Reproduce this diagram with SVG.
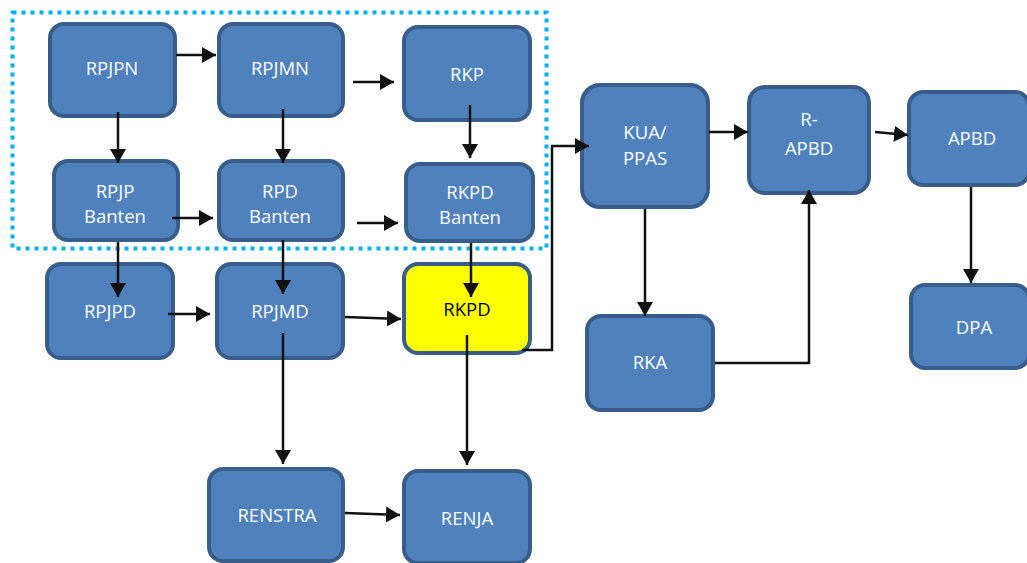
<svg xmlns="http://www.w3.org/2000/svg" width="1027" height="563" viewBox="0 0 1027 563">
<defs>
<marker id="ah" markerUnits="userSpaceOnUse" markerWidth="15" markerHeight="16" refX="14" refY="8" orient="auto">
<path d="M0,0 L14,8 L0,16 z" fill="#111"/>
</marker>
<style>
.n rect{fill:#4F81BD;stroke:#385D8A;stroke-width:4}
.n text{font-family:"Open Sans","Liberation Sans",sans-serif;font-size:18.5px;fill:#fff;text-anchor:middle}
.y rect{fill:#FFFF00}
.y text{fill:#000}
.c path{fill:none;stroke:#111;stroke-width:2.5;marker-end:url(#ah)}
</style>
</defs>
<rect x="12.5" y="12.5" width="534" height="236" fill="none" stroke="#00B0F0" stroke-width="4" stroke-dasharray="4 5"/>
<g class="n" id="rpjpn"><rect x="50" y="24" width="125" height="92" rx="14"/><text x="112" y="75">RPJPN</text></g>
<g class="n" id="rpjmn"><rect x="219" y="24" width="124" height="92" rx="14"/><text x="280" y="75">RPJMN</text></g>
<g class="n" id="rkp"><rect x="404" y="27" width="126" height="93" rx="14"/><text x="467" y="81">RKP</text></g>
<g class="n" id="rpjp"><rect x="54" y="161" width="124" height="79" rx="14"/><text x="115" y="198">RPJP</text><text x="115" y="223">Banten</text></g>
<g class="n" id="rpd"><rect x="219" y="161" width="124" height="79" rx="14"/><text x="280" y="198">RPD</text><text x="280" y="223">Banten</text></g>
<g class="n" id="rkpdb"><rect x="406" y="164" width="127" height="77" rx="14"/><text x="470" y="199">RKPD</text><text x="470" y="224">Banten</text></g>
<g class="n" id="rpjpd"><rect x="47" y="264" width="126" height="94" rx="14"/><text x="110" y="318">RPJPD</text></g>
<g class="n" id="rpjmd"><rect x="217" y="264" width="126" height="94" rx="14"/><text x="280" y="318">RPJMD</text></g>
<g class="n y" id="rkpd"><rect x="404" y="264" width="126" height="89" rx="14"/><text x="467" y="316">RKPD</text></g>
<g class="n" id="renstra"><rect x="209" y="469" width="134" height="92" rx="14"/><text x="277" y="522">RENSTRA</text></g>
<g class="n" id="renja"><rect x="404" y="471" width="126" height="92" rx="14"/><text x="467" y="525">RENJA</text></g>
<g class="n" id="kua"><rect x="582" y="85" width="126" height="122" rx="18"/><text x="645" y="139">KUA/</text><text x="645" y="165">PPAS</text></g>
<g class="n" id="rapbd"><rect x="749" y="87" width="120" height="106" rx="16"/><text x="809" y="126">R-</text><text x="809" y="155">APBD</text></g>
<g class="n" id="apbd"><rect x="909" y="92" width="120" height="93" rx="14"/><text x="972" y="145">APBD</text></g>
<g class="n" id="rka"><rect x="587" y="316" width="126" height="94" rx="14"/><text x="650" y="369">RKA</text></g>
<g class="n" id="dpa"><rect x="911" y="285" width="118" height="83" rx="14"/><text x="974" y="334">DPA</text></g>
<g class="c" id="connectors">
<path d="M176,55 L216,55"/>
<path d="M353,82 L394,82"/>
<path d="M118,112 L118,163"/>
<path d="M283,109 L283,163"/>
<path d="M470,105 L470,158"/>
<path d="M172,218 L213,218"/>
<path d="M357,223 L398,223"/>
<path d="M118,242 L118,297"/>
<path d="M283,240 L283,294"/>
<path d="M471,243 L471,297"/>
<path d="M168,314 L210,314"/>
<path d="M345,317 L401,319"/>
<path d="M283,333 L283,464"/>
<path d="M467,335 L467,465"/>
<path d="M345,513 L400,515"/>
<path d="M522,350 L552,350 L552,146 L589,146"/>
<path d="M709,132 L748,132"/>
<path d="M875,132 L908,135"/>
<path d="M645,209 L645,316"/>
<path d="M715,363 L809,363 L809,190"/>
<path d="M971,187 L971,283"/>
</g>
</svg>
